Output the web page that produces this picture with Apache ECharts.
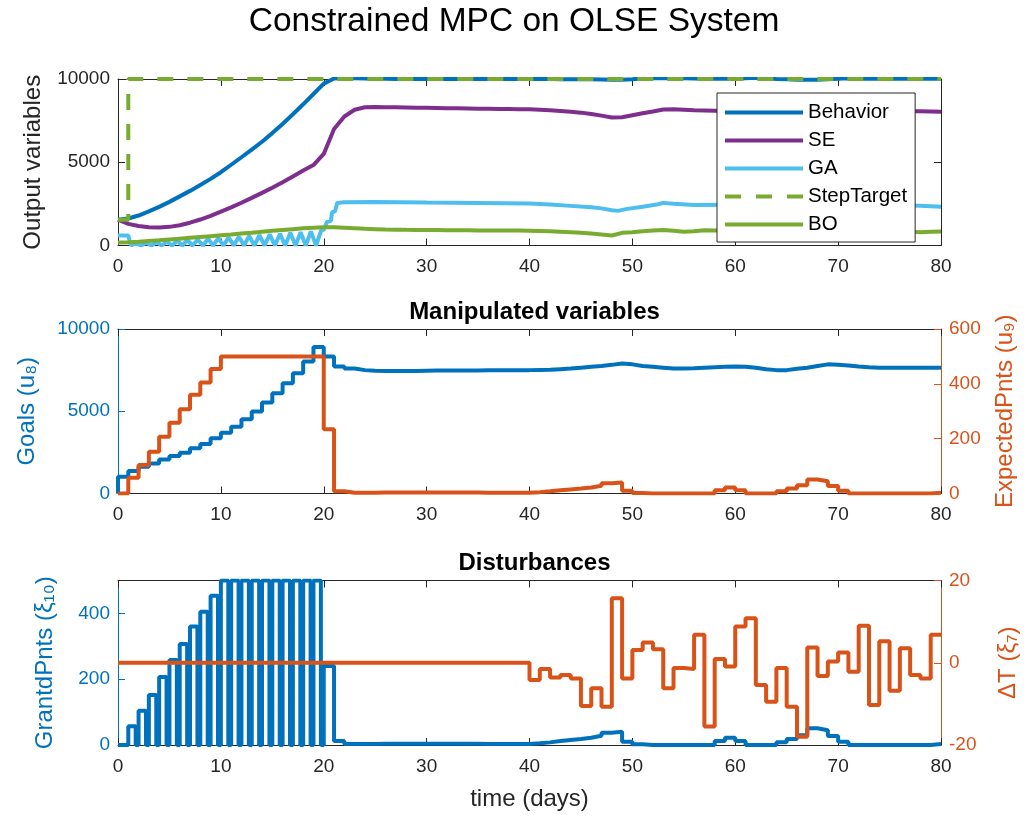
<!DOCTYPE html>
<html><head><meta charset="utf-8">
<script src="https://cdn.jsdelivr.net/npm/echarts@6/dist/echarts.min.js"></script>
<style>html,body{margin:0;padding:0;background:#fff}#c{width:1028px;height:816px}</style>
</head><body><div id="c"></div>
<script>
const FONT = '"Liberation Sans", Arial, Helvetica, sans-serif';
const AX = '#262626', C1 = '#0072BD', C2 = '#D95319';

// ---- Top panel: output variables (daily values, day 0..80)
const behavior = [1550,1620,1800,2050,2320,2620,2950,3280,3630,4000,
  4400,4850,5300,5760,6230,6750,7300,7880,8480,9100,
  9720,10030,10050,10040,10030,10020,10010,10000,10000,10000,
  10000,10000,10000,10000,10000,10000,10000,10000,10000,10000,
  10000,10000,10000,9990,9990,9980,9980,9970,9950,9960,
  9990,10030,10050,10060,10050,10040,10030,10020,10020,10020,
  10020,10050,10080,10050,10000,9980,9960,9950,9960,9990,
  10020,10040,10020,10020,10020,10020,10020,10020,10020,10020,10020];
const se = [1550,1300,1170,1090,1080,1120,1220,1370,1560,1780,
  2030,2290,2570,2860,3160,3470,3800,4150,4500,4830,
  5500,7000,7750,8150,8300,8320,8310,8300,8290,8280,
  8270,8260,8250,8240,8230,8220,8210,8200,8200,8190,
  8180,8150,8120,8080,8030,7980,7900,7800,7690,7700,
  7820,7940,8050,8170,8180,8150,8120,8110,8100,8100,
  8100,8100,8100,8100,8100,8100,8100,8100,8100,8100,
  8100,8100,8100,8100,8100,8100,8080,8070,8060,8050,8040];
const bo = [180,200,230,270,310,360,410,460,510,560,
  610,660,720,770,830,880,930,980,1030,1070,
  1100,1090,1060,1030,1000,980,960,950,940,935,
  930,925,920,915,910,905,900,900,895,895,
  890,870,850,820,790,760,720,660,600,760,
  800,850,900,930,880,830,850,920,900,880,
  870,860,850,850,840,840,830,830,830,820,
  820,820,820,820,820,820,820,820,800,820,840];
const gaTimes = [0,1,1.25,1.75,2.25,2.75,3.25,3.75,4.25,4.75,5.25,5.75,6.25,6.75,7.25,7.75,8.25,8.75,9.25,9.75,10.25,10.75,11.25,11.75,12.25,12.75,13.25,13.75,14.25,14.75,15.25,15.75,16.25,16.75,17.25,17.75,18.25,18.75,19.25,19.75,
  20.0,20.3,20.7,20.8,21.1,21.3,22,25,30,35,40,42,44,46,47,48,48.6,49.5,51,52.5,53,54,56,60,65,70,75,78,80];
const gaValues = [600,600,0,120,0,160,0,200,0,240,0,280,0,320,0,360,0,400,0,440,0,490,0,530,0,580,0,620,0,670,0,710,0,760,0,800,0,850,0,900,
  950,1400,1500,2000,2050,2550,2600,2620,2580,2560,2520,2460,2380,2300,2230,2120,2080,2200,2330,2480,2560,2510,2430,2450,2450,2450,2420,2380,2330];
const stepTimes = [0,1,80];
const stepValues = [1550,10000,10000];

// ---- Middle panel: manipulated variables (stairs, value held on [k,k+1))
const goals = [1016,1362,1626,1829,2073,2276,2480,2744,3008,3354,
  3699,4065,4512,4980,5528,6098,6707,7317,8028,8902,
  8333,7724,7600,7500,7460,7450,7450,7450,7450,7460,
  7470,7470,7480,7480,7480,7490,7490,7500,7500,7500,
  7510,7520,7560,7600,7650,7700,7750,7820,7900,7850,
  7750,7700,7650,7600,7600,7620,7650,7680,7700,7720,
  7700,7650,7550,7500,7500,7580,7650,7750,7850,7830,
  7780,7720,7680,7650,7650,7650,7650,7650,7650,7650];
const expected = [0,57,104,152,207,258,307,360,405,454,
  500,500,500,500,500,500,500,500,500,500,
  234,8,3,3,3,4,4,4,4,4,
  4,4,4,4,4,3,3,3,3,3,
  5,8,12,15,18,22,28,37,40,10,
  2,0,0,0,0,0,0,0,12,22,
  12,0,0,0,8,18,30,51,45,27,
  10,0,0,0,0,0,0,0,0,3];

// ---- Bottom panel: disturbances
const grantd = [0,57,104,152,207,258,307,360,405,454,
  500,500,500,500,500,500,500,500,500,500,
  240,12,3,3,3,4,4,4,4,4,
  4,4,4,4,4,3,3,3,3,3,
  5,8,12,15,18,22,28,37,40,10,
  2,0,0,0,0,0,0,0,12,22,
  12,0,0,0,8,18,30,51,45,27,
  10,0,0,0,0,0,0,0,0,3];
const grantdPulsed = [0,1,1,1,1,1,1,1,1,1,1,1,1,1,1,1,1,1,1,1]; // days with on/off pulses
const PULSE_ON = 0.72;
const deltaT = [0,0,0,0,0,0,0,0,0,0, 0,0,0,0,0,0,0,0,0,0,
  0,0,0,0,0,0,0,0,0,0, 0,0,0,0,0,0,0,0,0,0,
  -4.2,-1.5,-3.6,-3.0,-3.8,-10.5,-6.2,-10.7,15.7,-3.8,
  3.1,4.9,3.3,-6.2,-1.3,-1.5,6.8,-15.5,0.9,-0.9,
  8.8,10.8,-5.4,-9.5,-1.3,-10.7,-18.0,3.7,-3.2,0.3,
  2.5,-2.2,9.0,-10.3,5.2,-6.8,3.5,-3.0,-3.8,6.8];

const legendNames = ['Behavior', 'SE', 'GA', 'StepTarget', 'BO'];

const days = behavior.map((_, i) => i);
const pairs = (xs, ys) => xs.map((x, i) => [x, ys[i]]);
function stairs(vals, start0) {
  const d = start0 ? [[0, 0]] : [];
  vals.forEach((v, k) => d.push([k, v]));
  d.push([vals.length, vals[vals.length - 1]]);
  return d;
}
function pulsedStairs(vals, pulsed) {
  const d = [];
  vals.forEach((v, k) => {
    d.push([k, v]);
    if (pulsed[k]) d.push([k + PULSE_ON, 0]);
  });
  d.push([vals.length, vals[vals.length - 1]]);
  return d;
}
const plain = v => String(v);

function xAx(g, top) {
  return {type: 'value', gridIndex: g, min: 0, max: 80, interval: 10, position: top ? 'top' : 'bottom',
    axisLine: {show: true, onZero: false, lineStyle: {color: AX, width: 1}},
    axisTick: {show: true, inside: true, length: 7, lineStyle: {color: AX}},
    axisLabel: {show: !top, color: AX, fontSize: 19, fontFamily: FONT, margin: 12, formatter: plain},
    splitLine: {show: false},
    name: (g === 2 && !top) ? 'time (days)' : '', nameLocation: 'middle', nameGap: 42,
    nameTextStyle: {color: AX, fontSize: 24, fontFamily: FONT}};
}
function yAx(g, pos, color, min, max, interval, showLabel, name, gap) {
  return {type: 'value', gridIndex: g, position: pos, min: min, max: max, interval: interval,
    axisLine: {show: true, onZero: false, lineStyle: {color: color, width: 1}},
    axisTick: {show: true, inside: true, length: 7, lineStyle: {color: color}},
    axisLabel: {show: showLabel, color: color, fontSize: 19, fontFamily: FONT, margin: 8, formatter: plain,
      showMaxLabel: (max % interval === 0)},
    splitLine: {show: false},
    name: name || '', nameLocation: 'middle', nameGap: gap || 0, nameRotate: 90,
    nameTextStyle: {color: color, fontSize: 24, fontFamily: FONT}};
}

const line = (name, xi, yi, data, color, extra) => Object.assign({
  name: name, type: 'line', xAxisIndex: xi, yAxisIndex: yi, data: data, showSymbol: false, symbol: 'none',
  lineStyle: {color: color, width: 4}, itemStyle: {color: color}, emphasis: {disabled: true}, z: 2
}, extra || {});

const SOLID_ICON = 'path://M0,0h78v4h-78z';
const DASH_ICON = 'path://M0,0h16v4h-16z M31,0h16v4h-16z M62,0h16v4h-16z';

const option = {
  animation: false,
  backgroundColor: '#fff',
  textStyle: {fontFamily: FONT},
  title: [
    {text: 'Constrained MPC on OLSE System', left: 'center', top: 0, textStyle: {fontSize: 33.5, fontWeight: 'normal', color: '#000', fontFamily: FONT}},
    {text: 'Manipulated variables', left: 529.5, textAlign: 'center', top: 295, textStyle: {fontSize: 24, fontWeight: 'bold', color: '#000', fontFamily: FONT}},
    {text: 'Disturbances', left: 529.5, textAlign: 'center', top: 546, textStyle: {fontSize: 24, fontWeight: 'bold', color: '#000', fontFamily: FONT}}
  ],
  grid: [
    {left: 118, right: 87, top: 79, height: 166.5},
    {left: 118, right: 87, top: 329, height: 164.5},
    {left: 118, right: 87, top: 580.5, height: 164.5}
  ],
  xAxis: [xAx(0, false), xAx(0, true), xAx(1, false), xAx(1, true), xAx(2, false), xAx(2, true)],
  yAxis: [
    yAx(0, 'left', AX, 0, 10000, 5000, true, 'Output variables', 73),
    yAx(0, 'right', AX, 0, 10000, 5000, false),
    yAx(1, 'left', C1, 0, 10000, 5000, true, 'Goals (u₈)', 79),
    yAx(1, 'right', C2, 0, 600, 200, true, 'ExpectedPnts (u₉)', 52),
    yAx(2, 'left', C1, 0, 500, 200, true, 'GrantdPnts (ξ₁₀)', 61),
    yAx(2, 'right', C2, -20, 20, 20, true, 'ΔT (ξ₇)', 55)
  ],
  legend: {
    show: true, orient: 'vertical', left: 717, top: 93,
    data: legendNames.map(n => ({name: n, icon: n === 'StepTarget' ? DASH_ICON : SOLID_ICON})),
    backgroundColor: '#fff', borderColor: AX, borderWidth: 1, borderRadius: 0,
    padding: [9, 8, 7, 8], itemWidth: 78, itemHeight: 4, itemGap: 7,
    textStyle: {fontSize: 20.5, color: '#000', fontFamily: FONT, lineHeight: 21},
    selectedMode: false, z: 10
  },
  series: [
    line('Behavior', 0, 0, pairs(days, behavior), C1),
    line('SE', 0, 0, pairs(days, se), '#7E2F8E'),
    line('GA', 0, 0, pairs(gaTimes, gaValues), '#4DBEEE'),
    line('StepTarget', 0, 0, pairs(stepTimes, stepValues), '#77AC30', {step: 'end', lineStyle: {color: '#77AC30', width: 4, type: [16, 14]}}),
    line('BO', 0, 0, pairs(days, bo), '#77AC30'),
    line('Goals', 2, 2, stairs(goals, true), C1, {step: 'end'}),
    line('ExpectedPnts', 2, 3, stairs(expected, false), C2, {step: 'end'}),
    line('GrantdPnts', 4, 4, pulsedStairs(grantd, grantdPulsed), C1, {step: 'end'}),
    line('DeltaT', 4, 5, stairs(deltaT, false), C2, {step: 'end'})
  ]
};
const chart = echarts.init(document.getElementById('c'), null, {renderer: 'canvas'});
chart.setOption(option);
</script></body></html>
